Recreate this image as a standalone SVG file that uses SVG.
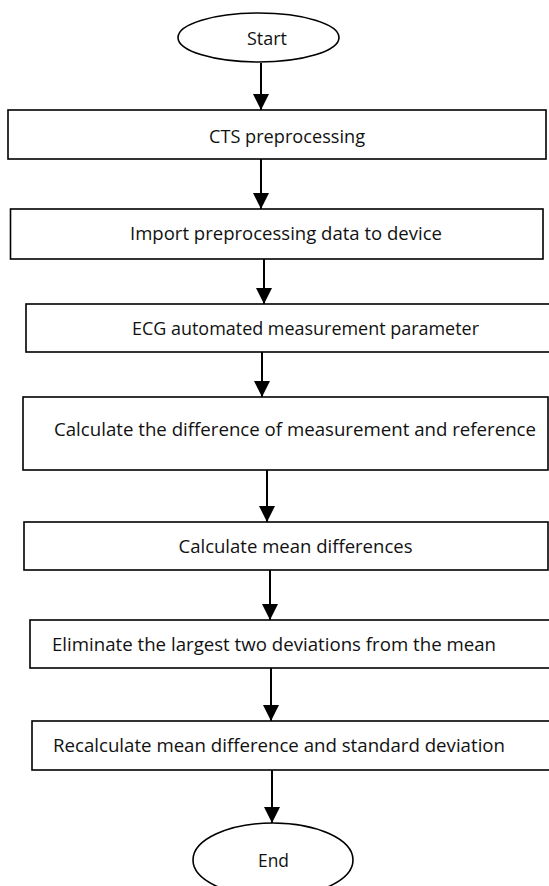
<svg xmlns="http://www.w3.org/2000/svg" width="549" height="886" viewBox="0 0 549 886">
  <style>
    .box { fill: #ffffff; stroke: #000000; stroke-width: 1.6; }
    .term { fill: #ffffff; stroke: #000000; stroke-width: 1.6; }
    .lbl { font-family: "Open Sans", "Liberation Sans", sans-serif; font-size: 18px; fill: #111111; }
    .conn { stroke: #000000; stroke-width: 2; fill: none; }
  </style>
  <defs>
    <marker id="arrow" markerUnits="userSpaceOnUse" markerWidth="16" markerHeight="16" refX="16" refY="8" orient="auto">
      <path d="M0,0 L16,8 L0,16 Z" fill="#000000"/>
    </marker>
  </defs>
  <rect width="549" height="886" fill="#ffffff"/>

  <g id="connectors">
    <line class="conn" x1="261" y1="63" x2="261" y2="110" marker-end="url(#arrow)"/>
    <line class="conn" x1="261" y1="159" x2="261" y2="209" marker-end="url(#arrow)"/>
    <line class="conn" x1="264" y1="259" x2="264" y2="304" marker-end="url(#arrow)"/>
    <line class="conn" x1="262" y1="352" x2="262" y2="397" marker-end="url(#arrow)"/>
    <line class="conn" x1="267" y1="470" x2="267" y2="522" marker-end="url(#arrow)"/>
    <line class="conn" x1="270" y1="570" x2="270" y2="620" marker-end="url(#arrow)"/>
    <line class="conn" x1="271" y1="668" x2="271" y2="721" marker-end="url(#arrow)"/>
    <line class="conn" x1="272" y1="770" x2="272" y2="823" marker-end="url(#arrow)"/>
  </g>

  <g id="start">
    <ellipse class="term" cx="258.5" cy="37.5" rx="80.5" ry="24.5"/>
    <text class="lbl" x="247" y="45" textLength="40" lengthAdjust="spacingAndGlyphs">Start</text>
  </g>

  <g id="cts">
    <rect class="box" x="8" y="110" width="538" height="49"/>
    <text class="lbl" x="209" y="143" textLength="156" lengthAdjust="spacingAndGlyphs">CTS preprocessing</text>
  </g>

  <g id="import">
    <rect class="box" x="10.5" y="209" width="532.5" height="50"/>
    <text class="lbl" x="130" y="240" textLength="312" lengthAdjust="spacingAndGlyphs">Import preprocessing data to device</text>
  </g>

  <g id="ecg">
    <rect class="box" x="26" y="304" width="530" height="48"/>
    <text class="lbl" x="132" y="335" textLength="347" lengthAdjust="spacingAndGlyphs">ECG automated measurement parameter</text>
  </g>

  <g id="calcdiff">
    <rect class="box" x="23" y="397" width="525" height="73"/>
    <text class="lbl" x="54" y="436" textLength="482" lengthAdjust="spacingAndGlyphs">Calculate the difference of measurement and reference</text>
  </g>

  <g id="mean">
    <rect class="box" x="24" y="522" width="524" height="48"/>
    <text class="lbl" x="178.5" y="553" textLength="234" lengthAdjust="spacingAndGlyphs">Calculate mean differences</text>
  </g>

  <g id="eliminate">
    <rect class="box" x="30" y="620" width="530" height="48"/>
    <text class="lbl" x="52" y="651" textLength="444" lengthAdjust="spacingAndGlyphs">Eliminate the largest two deviations from the mean</text>
  </g>

  <g id="recalc">
    <rect class="box" x="32" y="721" width="530" height="49"/>
    <text class="lbl" x="53" y="752" textLength="452" lengthAdjust="spacingAndGlyphs">Recalculate mean difference and standard deviation</text>
  </g>

  <g id="end">
    <ellipse class="term" cx="273" cy="860" rx="80" ry="37"/>
    <text class="lbl" x="258" y="867" textLength="31" lengthAdjust="spacingAndGlyphs">End</text>
  </g>
</svg>
